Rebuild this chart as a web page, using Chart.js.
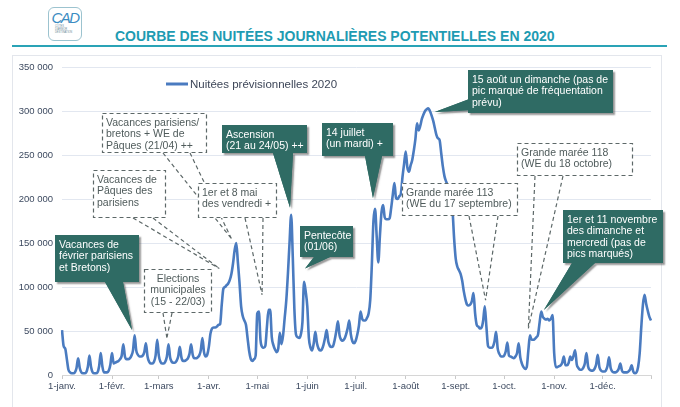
<!DOCTYPE html>
<html lang="fr">
<head>
<meta charset="utf-8">
<script src="https://cdn.jsdelivr.net/npm/chart.js@4.4.1/dist/chart.umd.min.js"></script>
<style>
  html,body{margin:0;padding:0;background:#fff;}
  #wrap{position:relative;width:680px;height:407px;overflow:hidden;font-family:'Liberation Sans',Arial,sans-serif;}
  #panel{position:absolute;left:12px;top:55px;width:650px;height:370px;border:1px solid #e3e6ec;box-sizing:border-box;}
  #rule{position:absolute;left:12px;top:45px;width:655px;height:2px;background:#2aa3b6;}
  #title{position:absolute;left:115px;top:28px;line-height:16px;font-size:14px;font-weight:bold;color:#1e9bb2;white-space:nowrap;}
  #logo{position:absolute;left:48px;top:7px;width:34px;height:34px;border:1.5px solid #9cc3cf;border-radius:6px;box-sizing:border-box;text-align:center;}
  #logo .cad{font-size:15px;font-style:italic;color:#3b8cc2;line-height:15px;margin-top:2px;letter-spacing:-1.5px;}
  #logo .sub{font-size:2.6px;color:#6b8b96;line-height:3px;text-align:left;padding-left:6px;}
  canvas{position:absolute;left:0;top:0;}
</style>
</head>
<body>
<div id="wrap">
  <div id="panel"></div>
  <div id="rule"></div>
  <div id="logo"><div class="cad">CAD</div><div class="sub">CÔTES<br>D'ARMOR<br>DESTINATION</div></div>
  <div id="title">COURBE DES NUITÉES JOURNALIÈRES POTENTIELLES EN 2020</div>
  <canvas id="c" width="680" height="407"></canvas>
</div>
<script>
// ---------- DATA ----------
const seriesLabel = 'Nuitées prévisionnelles 2020';
const monthLabels = ['1-janv.','1-févr.','1-mars','1-avr.','1-mai','1-juin','1-juil.','1-août','1-sept.','1-oct.','1-nov.','1-déc.'];
const jan = [51000,33000,30000,18000,6000,3000,2000,2000,3000,8000,19000,8000,3000,2000,2000,3000,9000,22000,9000,3000,2000,2000,3000,10000,25000,10000,3000,3000,3000,5000,12000];
const feb = [25000,13000,14000,15000,16000,18000,22000,35000,21000,18000,18000,19000,22000,28000,45000,28000,23000,21000,21000,22000,26000,36000,21000,15000,13000,13000,15000,22000,40000];
const mar = [22000,15000,13000,13000,15000,21000,35000,20000,15000,14000,14000,16000,21000,32000,20000,16000,16000,17000,19000,24000,35000,23000,19000,19000,20000,22000,28000,42000,26000,21000,23000];
const apr = [32000,47000,53000,54000,54000,55000,57000,58000,80000,98000,100000,102000,104000,108000,115000,127000,142000,150000,128000,105000,78000,67000,62000,57000,42000,27000,18000,16000,18000,22000];
const may = [70000,72000,40000,32000,31000,33000,55000,74000,74000,43000,34000,29000,26000,30000,48000,35000,45000,65000,85000,115000,150000,182000,135000,75000,46000,43000,42000,46000,60000,106000,95000];
const jun = [78000,42000,31000,28000,36000,49000,36000,30000,28000,29000,34000,42000,51000,38000,33000,32000,33000,40000,50000,61000,45000,40000,39000,41000,46000,53000,62000,46000,38000,36000];
const jul = [39000,46000,56000,72000,64000,62000,62000,65000,70000,85000,125000,175000,189000,158000,128000,158000,185000,193000,179000,177000,177000,178000,190000,205000,218000,201000,200000,203000,206000,225000,240000];
const aug = [254000,236000,231000,238000,244000,255000,268000,286000,278000,283000,291000,296000,300000,302000,303000,300000,295000,289000,281000,273000,269000,267000,252000,237000,226000,220000,216000,213000,200000,187000,155000];
const sep = [132000,123000,119000,115000,107000,95000,86000,80000,79000,80000,84000,93000,70000,57000,55000,53000,54000,62000,78000,55000,33000,31000,31000,32000,38000,49000,30000,24000,21000,21000];
const oct = [22000,27000,37000,22000,21000,20000,19000,21000,25000,36000,20000,13000,9000,7000,9000,28000,45000,40000,40000,41000,43000,46000,60000,72000,66000,64000,63000,64000,62000,64000,68000];
const nov = [25000,9000,9000,10000,11000,14000,21000,11000,11000,14000,21000,17000,22000,28000,12000,8000,6000,6000,8000,13000,25000,10000,6000,5000,5000,7000,12000,23000,9000,5000];
const dec = [4000,4000,5000,10000,20000,8000,4000,3000,3000,4000,7000,13000,5000,3000,3000,3000,4000,6000,11000,4000,2000,3000,9000,25000,55000,80000,91000,81000,73000,66000,62000];

const months = [jan,feb,mar,apr,may,jun,jul,aug,sep,oct,nov,dec];
const values = [].concat(...months);
const labels = [];
const monthStart = {};
months.forEach((arr, m) => {
  monthStart[labels.length] = monthLabels[m];
  arr.forEach((_, d) => labels.push((d + 1) + '/' + (m + 1) + '/2020'));
});
const tickMarks = new Set(Object.keys(monthStart).map(Number).concat([labels.length - 1]));

// ---------- STYLE ----------
const FONT = "'Liberation Sans', Arial, sans-serif";
const LINE = '#4a7bc0';
const FILL = '#2f6b64';
const fmt = v => String(v).replace(/\B(?=(\d{3})+(?!\d))/g, ' ');

const annotations = [
  {kind:'filled', box:[55,235,139,282], lines:['Vacances de','février parisiens','et Bretons)'], base:[[105,282],[123,282]], tip:[43.4,51000]},
  {kind:'dashed', box:[144,269,212,313], center:true, lines:['Elections','municipales','(15 - 22/03)'], base:[[163,313],[172,313]], tip:[65,42000]},
  {kind:'dashed', box:[93,170,166,218], lines:['Vacances de','Pâques des','parisiens'], base:[[133,218],[153,218]], tip:[97.5,121000]},
  {kind:'dashed', box:[102,113,207,153], lines:['Vacances parisiens/','bretons + WE de','Pâques (21/04) ++'], base:[[163,153],[190,153]], tip:[105,155000]},
  {kind:'dashed', box:[198,183,277,218], lines:['1er et 8 mai','des vendredi +'], base:[[245,218],[263,218]], tip:[124,91000]},
  {kind:'filled', box:[222,125,307,153], lines:['Ascension','(21 au 24/05) ++'], base:[[273,153],[293,153]], tip:[141.3,190000]},
  {kind:'filled', box:[322,123,393,156], lines:['14 juillet','(un mardi) +'], base:[[365,156],[382,156]], tip:[192.7,201000]},
  {kind:'filled', box:[300,226,353,257], lines:['Pentecôte','(01/06)'], base:[[314,257],[330,257]], tip:[150.6,121000]},
  {kind:'filled', box:[468,70,613,113], lines:['15 août un dimanche (pas de','pic marqué de fréquentation','prévu)'], base:[[472,98],[472,110]], tip:[231,299000]},
  {kind:'dashed', box:[402,183,518,216], lines:['Grande marée 113','(WE du 17 septembre)'], base:[[469,216],[498,216]], tip:[262.5,85000]},
  {kind:'dashed', box:[517,143,633,176], lines:['Grande marée 118','(WE du 18 octobre)'], base:[[535,176],[563,176]], tip:[289,53000]},
  {kind:'filled', box:[563,210,663,263], lines:['1er et 11 novembre','des dimanche et','mercredi (pas de','pics marqués)'], base:[[572,263],[595,263]], tip:[298.6,74000]}
];

const legendPlugin = {
  id:'customLegend',
  afterDatasetsDraw(chart){
    const ctx = chart.ctx, ds = chart.data.datasets[0];
    ctx.save();
    ctx.strokeStyle = ds.borderColor; ctx.lineWidth = 3;
    ctx.beginPath(); ctx.moveTo(166,84); ctx.lineTo(188,84); ctx.stroke();
    ctx.fillStyle = '#3d4658'; ctx.font = '11.5px ' + FONT; ctx.textBaseline = 'middle';
    ctx.fillText(ds.label, 190, 84.5);
    ctx.restore();
  }
};

const annotPlugin = {
  id:'annots',
  afterDatasetsDraw(chart){
    const {ctx, scales:{x, y}} = chart;
    ctx.save();
    ctx.font = '10.5px ' + FONT;
    ctx.textBaseline = 'middle';
    for (const a of annotations){
      const tx = x.getPixelForValue(a.tip[0]);
      const ty = y.getPixelForValue(a.tip[1]);
      const [x1,y1,x2,y2] = a.box;
      const shape = () => {
        ctx.beginPath(); ctx.rect(x1,y1,x2-x1,y2-y1); ctx.fill();
        ctx.beginPath(); ctx.moveTo(a.base[0][0],a.base[0][1]); ctx.lineTo(tx,ty); ctx.lineTo(a.base[1][0],a.base[1][1]); ctx.closePath(); ctx.fill();
      };
      if (a.kind === 'filled'){
        ctx.save();
        ctx.shadowColor = 'rgba(70,70,70,0.55)'; ctx.shadowOffsetX = 2; ctx.shadowOffsetY = 2; ctx.shadowBlur = 1.5;
        ctx.fillStyle = FILL; shape();
        ctx.restore();
        ctx.fillStyle = FILL; shape();
        ctx.fillStyle = '#ffffff';
      } else {
        ctx.save();
        ctx.fillStyle = '#ffffff'; ctx.fillRect(x1,y1,x2-x1,y2-y1);
        ctx.setLineDash([4,3]); ctx.strokeStyle = '#5d6868'; ctx.lineWidth = 1.2;
        ctx.strokeRect(x1+0.5,y1+0.5,x2-x1-1,y2-y1-1);
        ctx.beginPath();
        ctx.moveTo(a.base[0][0],a.base[0][1]); ctx.lineTo(tx,ty);
        ctx.moveTo(a.base[1][0],a.base[1][1]); ctx.lineTo(tx,ty);
        ctx.stroke();
        ctx.restore();
        ctx.fillStyle = '#4f5b5b';
      }
      ctx.textAlign = a.center ? 'center' : 'left';
      const lx = a.center ? (x1+x2)/2 : x1 + 4;
      a.lines.forEach((t,i) => ctx.fillText(t, lx, y1 + 10 + i*11.5));
    }
    ctx.restore();
  }
};

new Chart(document.getElementById('c'), {
  type:'line',
  data:{
    labels: labels,
    datasets:[{
      label: seriesLabel,
      data: values,
      borderColor: LINE,
      backgroundColor: LINE,
      borderWidth: 2.6,
      pointRadius: 0,
      cubicInterpolationMode: 'monotone',
      fill: false
    }]
  },
  options:{
    responsive:false,
    animation:false,
    layout:{padding:{top:67,right:29,bottom:0,left:0}},
    plugins:{legend:{display:false}, tooltip:{enabled:false}, title:{display:false}},
    scales:{
      x:{
        type:'category',
        offset:false,
        grid:{display:true, drawOnChartArea:false, drawTicks:true, tickLength:4,
              color: c => tickMarks.has(c.index) ? '#c9c9c9' : 'rgba(0,0,0,0)'},
        border:{display:true, color:'#d6d6d6', width:1},
        ticks:{autoSkip:false, maxRotation:0, minRotation:0, padding:2,
               font:{family:FONT, size:9.5}, color:'#3d4a60',
               callback:(v,i) => monthStart[i] !== undefined ? monthStart[i] : ''},
        afterFit: s => { s.height = 32; }
      },
      y:{
        min:0, max:350000,
        ticks:{stepSize:50000, padding:9, font:{family:FONT, size:9.5}, color:'#3d4a60', callback: v => fmt(v)},
        grid:{color:'#e2e7f0', drawTicks:false},
        border:{display:false},
        afterFit: s => { s.width = 62; }
      }
    }
  },
  plugins:[legendPlugin, annotPlugin]
});
</script>
</body>
</html>
